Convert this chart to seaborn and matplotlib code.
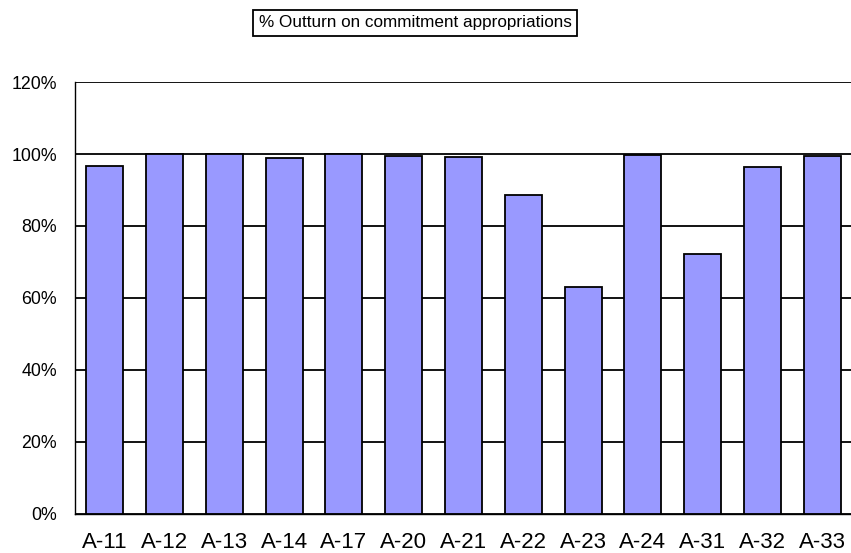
import matplotlib
matplotlib.use("Agg")
import matplotlib.pyplot as plt
import seaborn as sns
import pandas as pd
from matplotlib.ticker import FuncFormatter

# Budget lines and their outturn (% of commitment appropriations)
categories = ["A-11", "A-12", "A-13", "A-14", "A-17", "A-20", "A-21",
              "A-22", "A-23", "A-24", "A-31", "A-32", "A-33"]
outturn_pct = [96.7, 100.0, 100.0, 98.8, 100.0, 99.5, 99.1,
               88.6, 63.1, 99.8, 72.2, 96.4, 99.4]
y_ticks = [0, 20, 40, 60, 80, 100, 120]
title_text = "% Outturn on commitment appropriations"

df = pd.DataFrame({"line": categories, "outturn": outturn_pct})

sns.set_theme(style="white")
plt.rcParams["font.family"] = ["Liberation Sans", "DejaVu Sans"]

fig = plt.figure(figsize=(8.51, 5.53), dpi=100)
ax = fig.add_axes([75 / 851, 39 / 553, 777 / 851, 432 / 553])

sns.barplot(data=df, x="line", y="outturn", ax=ax, color="#9999FF",
            saturation=1, width=0.62, edgecolor="black", linewidth=1.3,
            errorbar=None)

ax.set_ylim(0, 120)
ax.set_yticks(y_ticks)
ax.yaxis.set_major_formatter(FuncFormatter(lambda v, _: f"{v:.0f}%"))
ax.yaxis.grid(True, color="black", linewidth=1.3)
ax.set_axisbelow(True)

for side in ("top", "right"):
    ax.spines[side].set_visible(False)
for side in ("left", "bottom"):
    ax.spines[side].set_color("black")
    ax.spines[side].set_linewidth(1.0)

ax.tick_params(axis="y", length=0, pad=13, labelsize=12.8, colors="black")
ax.tick_params(axis="x", length=0, pad=13, labelsize=16, colors="black")
ax.set_xlabel("")
ax.set_ylabel("")

fig.text(415 / 851, 1 - 23 / 553, title_text, ha="center", va="center",
         fontsize=12.3, color="black",
         bbox=dict(boxstyle="square,pad=0.32", facecolor="white",
                   edgecolor="black", linewidth=1.3))

fig.savefig("out.png", dpi=100)
